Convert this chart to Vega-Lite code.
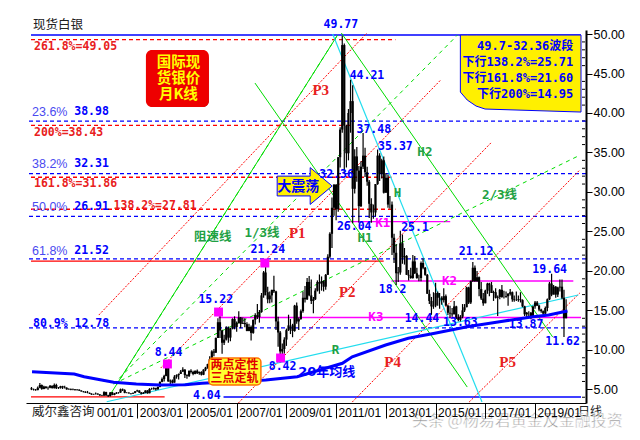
{
  "$schema": "https://vega.github.io/schema/vega-lite/v6.json",
  "width": 560,
  "height": 373,
  "autosize": {"type": "none"},
  "padding": {"left": 26, "top": 30, "right": 54, "bottom": 37},
  "background": "#ffffff",
  "config": {"view": {"stroke": null}},
  "datasets": {
    "candles": [
      {"t":"1998-10","o":5.13,"h":5.30,"l":4.90,"c":5.00},
      {"t":"1998-11","o":5.00,"h":5.10,"l":4.85,"c":4.95},
      {"t":"1998-12","o":4.95,"h":5.05,"l":4.82,"c":4.90},
      {"t":"1999-01","o":4.90,"h":5.35,"l":4.90,"c":5.20},
      {"t":"1999-02","o":5.20,"h":5.80,"l":5.15,"c":5.55},
      {"t":"1999-03","o":5.55,"h":5.60,"l":4.95,"c":5.05},
      {"t":"1999-04","o":5.05,"h":5.45,"l":5.00,"c":5.35},
      {"t":"1999-05","o":5.35,"h":5.40,"l":5.10,"c":5.15},
      {"t":"1999-06","o":5.15,"h":5.35,"l":4.95,"c":5.20},
      {"t":"1999-07","o":5.20,"h":5.55,"l":5.15,"c":5.45},
      {"t":"1999-08","o":5.45,"h":5.50,"l":5.10,"c":5.15},
      {"t":"1999-09","o":5.15,"h":5.75,"l":5.10,"c":5.55},
      {"t":"1999-10","o":5.55,"h":5.70,"l":5.05,"c":5.15},
      {"t":"1999-11","o":5.15,"h":5.30,"l":5.05,"c":5.15},
      {"t":"1999-12","o":5.15,"h":5.45,"l":5.10,"c":5.40},
      {"t":"2000-01","o":5.40,"h":5.45,"l":5.05,"c":5.25},
      {"t":"2000-02","o":5.25,"h":5.45,"l":5.10,"c":5.20},
      {"t":"2000-03","o":5.20,"h":5.25,"l":4.95,"c":5.00},
      {"t":"2000-04","o":5.00,"h":5.15,"l":4.95,"c":5.05},
      {"t":"2000-05","o":5.05,"h":5.10,"l":4.90,"c":4.95},
      {"t":"2000-06","o":4.95,"h":5.10,"l":4.90,"c":5.00},
      {"t":"2000-07","o":5.00,"h":5.05,"l":4.85,"c":4.90},
      {"t":"2000-08","o":4.90,"h":5.05,"l":4.85,"c":4.95},
      {"t":"2000-09","o":4.95,"h":5.00,"l":4.80,"c":4.85},
      {"t":"2000-10","o":4.85,"h":4.90,"l":4.70,"c":4.75},
      {"t":"2000-11","o":4.75,"h":4.80,"l":4.60,"c":4.70},
      {"t":"2000-12","o":4.70,"h":4.75,"l":4.55,"c":4.60},
      {"t":"2001-01","o":4.60,"h":4.80,"l":4.50,"c":4.55},
      {"t":"2001-02","o":4.55,"h":4.60,"l":4.40,"c":4.45},
      {"t":"2001-03","o":4.45,"h":4.50,"l":4.30,"c":4.35},
      {"t":"2001-04","o":4.35,"h":4.45,"l":4.30,"c":4.40},
      {"t":"2001-05","o":4.40,"h":4.60,"l":4.35,"c":4.45},
      {"t":"2001-06","o":4.45,"h":4.50,"l":4.30,"c":4.35},
      {"t":"2001-07","o":4.35,"h":4.40,"l":4.15,"c":4.25},
      {"t":"2001-08","o":4.25,"h":4.30,"l":4.15,"c":4.20},
      {"t":"2001-09","o":4.20,"h":4.75,"l":4.20,"c":4.65},
      {"t":"2001-10","o":4.65,"h":4.70,"l":4.15,"c":4.25},
      {"t":"2001-11","o":4.25,"h":4.30,"l":4.04,"c":4.15},
      {"t":"2001-12","o":4.15,"h":4.65,"l":4.10,"c":4.60},
      {"t":"2002-01","o":4.60,"h":4.65,"l":4.25,"c":4.30},
      {"t":"2002-02","o":4.30,"h":4.55,"l":4.25,"c":4.45},
      {"t":"2002-03","o":4.45,"h":4.65,"l":4.40,"c":4.55},
      {"t":"2002-04","o":4.55,"h":4.65,"l":4.45,"c":4.60},
      {"t":"2002-05","o":4.60,"h":5.10,"l":4.55,"c":5.00},
      {"t":"2002-06","o":5.00,"h":5.10,"l":4.80,"c":4.90},
      {"t":"2002-07","o":4.90,"h":5.00,"l":4.50,"c":4.55},
      {"t":"2002-08","o":4.55,"h":4.65,"l":4.50,"c":4.55},
      {"t":"2002-09","o":4.55,"h":4.65,"l":4.45,"c":4.50},
      {"t":"2002-10","o":4.50,"h":4.55,"l":4.35,"c":4.45},
      {"t":"2002-11","o":4.45,"h":4.60,"l":4.40,"c":4.55},
      {"t":"2002-12","o":4.55,"h":4.80,"l":4.50,"c":4.75},
      {"t":"2003-01","o":4.75,"h":4.95,"l":4.70,"c":4.85},
      {"t":"2003-02","o":4.85,"h":4.90,"l":4.55,"c":4.60},
      {"t":"2003-03","o":4.60,"h":4.65,"l":4.35,"c":4.45},
      {"t":"2003-04","o":4.45,"h":4.65,"l":4.40,"c":4.55},
      {"t":"2003-05","o":4.55,"h":4.90,"l":4.50,"c":4.85},
      {"t":"2003-06","o":4.85,"h":4.90,"l":4.45,"c":4.50},
      {"t":"2003-07","o":4.50,"h":5.15,"l":4.50,"c":5.05},
      {"t":"2003-08","o":5.05,"h":5.20,"l":4.95,"c":5.05},
      {"t":"2003-09","o":5.05,"h":5.25,"l":4.95,"c":5.15},
      {"t":"2003-10","o":5.15,"h":5.20,"l":4.85,"c":5.00},
      {"t":"2003-11","o":5.00,"h":5.35,"l":4.95,"c":5.30},
      {"t":"2003-12","o":5.30,"h":6.00,"l":5.25,"c":5.95},
      {"t":"2004-01","o":5.95,"h":6.50,"l":5.90,"c":6.30},
      {"t":"2004-02","o":6.30,"h":6.85,"l":6.00,"c":6.70},
      {"t":"2004-03","o":6.70,"h":7.95,"l":6.65,"c":7.95},
      {"t":"2004-04","o":7.95,"h":8.44,"l":5.95,"c":6.00},
      {"t":"2004-05","o":6.00,"h":6.25,"l":5.50,"c":6.10},
      {"t":"2004-06","o":6.10,"h":6.25,"l":5.75,"c":5.85},
      {"t":"2004-07","o":5.85,"h":6.80,"l":5.85,"c":6.60},
      {"t":"2004-08","o":6.60,"h":6.90,"l":6.35,"c":6.80},
      {"t":"2004-09","o":6.80,"h":7.00,"l":6.25,"c":6.95},
      {"t":"2004-10","o":6.95,"h":7.45,"l":6.95,"c":7.25},
      {"t":"2004-11","o":7.25,"h":7.80,"l":7.20,"c":7.50},
      {"t":"2004-12","o":7.50,"h":7.55,"l":6.45,"c":6.80},
      {"t":"2005-01","o":6.80,"h":6.90,"l":6.35,"c":6.70},
      {"t":"2005-02","o":6.70,"h":7.40,"l":6.55,"c":7.35},
      {"t":"2005-03","o":7.35,"h":7.55,"l":7.00,"c":7.20},
      {"t":"2005-04","o":7.20,"h":7.35,"l":6.80,"c":6.95},
      {"t":"2005-05","o":6.95,"h":7.40,"l":6.90,"c":7.35},
      {"t":"2005-06","o":7.35,"h":7.50,"l":6.95,"c":7.05},
      {"t":"2005-07","o":7.05,"h":7.25,"l":6.85,"c":7.20},
      {"t":"2005-08","o":7.20,"h":7.30,"l":6.75,"c":6.85},
      {"t":"2005-09","o":6.85,"h":7.55,"l":6.80,"c":7.50},
      {"t":"2005-10","o":7.50,"h":7.85,"l":7.30,"c":7.75},
      {"t":"2005-11","o":7.75,"h":8.25,"l":7.60,"c":8.20},
      {"t":"2005-12","o":8.20,"h":9.20,"l":8.10,"c":8.83},
      {"t":"2006-01","o":8.83,"h":9.95,"l":8.80,"c":9.80},
      {"t":"2006-02","o":9.80,"h":10.10,"l":9.20,"c":9.65},
      {"t":"2006-03","o":9.65,"h":11.55,"l":9.60,"c":11.50},
      {"t":"2006-04","o":11.50,"h":14.00,"l":11.50,"c":13.50},
      {"t":"2006-05","o":13.50,"h":15.22,"l":11.50,"c":12.45},
      {"t":"2006-06","o":12.45,"h":12.55,"l":9.50,"c":10.90},
      {"t":"2006-07","o":10.90,"h":11.90,"l":10.60,"c":11.30},
      {"t":"2006-08","o":11.30,"h":13.00,"l":11.20,"c":12.80},
      {"t":"2006-09","o":12.80,"h":12.95,"l":10.90,"c":11.55},
      {"t":"2006-10","o":11.55,"h":12.80,"l":11.10,"c":12.70},
      {"t":"2006-11","o":12.70,"h":14.00,"l":12.60,"c":13.90},
      {"t":"2006-12","o":13.90,"h":14.25,"l":12.60,"c":12.90},
      {"t":"2007-01","o":12.90,"h":13.60,"l":12.30,"c":13.40},
      {"t":"2007-02","o":13.40,"h":14.90,"l":13.35,"c":14.10},
      {"t":"2007-03","o":14.10,"h":14.15,"l":12.75,"c":13.30},
      {"t":"2007-04","o":13.30,"h":14.10,"l":13.30,"c":13.40},
      {"t":"2007-05","o":13.40,"h":14.00,"l":12.85,"c":13.25},
      {"t":"2007-06","o":13.25,"h":13.50,"l":12.35,"c":12.40},
      {"t":"2007-07","o":12.40,"h":13.30,"l":12.35,"c":12.90},
      {"t":"2007-08","o":12.90,"h":13.10,"l":11.20,"c":12.15},
      {"t":"2007-09","o":12.15,"h":13.85,"l":12.05,"c":13.80},
      {"t":"2007-10","o":13.80,"h":14.65,"l":13.20,"c":14.40},
      {"t":"2007-11","o":14.40,"h":15.80,"l":13.90,"c":14.15},
      {"t":"2007-12","o":14.15,"h":15.05,"l":13.45,"c":14.80},
      {"t":"2008-01","o":14.80,"h":17.20,"l":14.70,"c":16.90},
      {"t":"2008-02","o":16.90,"h":20.00,"l":16.60,"c":19.80},
      {"t":"2008-03","o":19.80,"h":21.24,"l":16.90,"c":17.30},
      {"t":"2008-04","o":17.30,"h":18.00,"l":15.90,"c":16.40},
      {"t":"2008-05","o":16.40,"h":17.40,"l":15.90,"c":16.90},
      {"t":"2008-06","o":16.90,"h":17.60,"l":16.00,"c":17.60},
      {"t":"2008-07","o":17.60,"h":19.40,"l":17.20,"c":17.40},
      {"t":"2008-08","o":17.40,"h":17.50,"l":12.50,"c":13.60},
      {"t":"2008-09","o":13.60,"h":14.20,"l":10.40,"c":12.20},
      {"t":"2008-10","o":12.20,"h":12.40,"l":8.42,"c":9.80},
      {"t":"2008-11","o":9.80,"h":10.80,"l":8.80,"c":10.10},
      {"t":"2008-12","o":10.10,"h":11.60,"l":9.50,"c":11.30},
      {"t":"2009-01","o":11.30,"h":12.70,"l":10.50,"c":12.50},
      {"t":"2009-02","o":12.50,"h":14.45,"l":12.40,"c":13.10},
      {"t":"2009-03","o":13.10,"h":13.90,"l":12.00,"c":13.10},
      {"t":"2009-04","o":13.10,"h":13.30,"l":11.60,"c":12.40},
      {"t":"2009-05","o":12.40,"h":15.70,"l":12.30,"c":15.60},
      {"t":"2009-06","o":15.60,"h":16.00,"l":13.30,"c":13.60},
      {"t":"2009-07","o":13.60,"h":14.10,"l":12.50,"c":13.90},
      {"t":"2009-08","o":13.90,"h":15.10,"l":13.80,"c":14.90},
      {"t":"2009-09","o":14.90,"h":17.40,"l":14.70,"c":16.60},
      {"t":"2009-10","o":16.60,"h":18.10,"l":16.00,"c":16.40},
      {"t":"2009-11","o":16.40,"h":19.10,"l":16.30,"c":18.60},
      {"t":"2009-12","o":18.60,"h":19.35,"l":16.80,"c":16.90},
      {"t":"2010-01","o":16.90,"h":18.90,"l":15.80,"c":16.20},
      {"t":"2010-02","o":16.20,"h":16.70,"l":14.65,"c":16.40},
      {"t":"2010-03","o":16.40,"h":17.80,"l":16.30,"c":17.50},
      {"t":"2010-04","o":17.50,"h":18.80,"l":17.40,"c":18.60},
      {"t":"2010-05","o":18.60,"h":19.55,"l":17.10,"c":18.40},
      {"t":"2010-06","o":18.40,"h":19.30,"l":17.50,"c":18.70},
      {"t":"2010-07","o":18.70,"h":18.80,"l":17.40,"c":18.00},
      {"t":"2010-08","o":18.00,"h":19.60,"l":17.60,"c":19.50},
      {"t":"2010-09","o":19.50,"h":22.10,"l":19.50,"c":21.80},
      {"t":"2010-10","o":21.80,"h":24.90,"l":21.60,"c":24.70},
      {"t":"2010-11","o":24.70,"h":29.30,"l":22.90,"c":28.00},
      {"t":"2010-12","o":28.00,"h":31.00,"l":27.00,"c":30.90},
      {"t":"2011-01","o":30.90,"h":31.00,"l":26.40,"c":27.80},
      {"t":"2011-02","o":27.80,"h":34.40,"l":27.50,"c":34.40},
      {"t":"2011-03","o":34.40,"h":38.20,"l":33.10,"c":37.90},
      {"t":"2011-04","o":37.90,"h":49.77,"l":37.50,"c":48.60},
      {"t":"2011-05","o":48.60,"h":48.80,"l":32.36,"c":38.40},
      {"t":"2011-06","o":38.40,"h":38.50,"l":33.10,"c":34.90},
      {"t":"2011-07","o":34.90,"h":40.50,"l":34.00,"c":40.00},
      {"t":"2011-08","o":40.00,"h":44.21,"l":37.50,"c":41.50},
      {"t":"2011-09","o":41.50,"h":43.50,"l":26.04,"c":30.40},
      {"t":"2011-10","o":30.40,"h":35.40,"l":29.80,"c":34.50},
      {"t":"2011-11","o":34.50,"h":35.70,"l":31.30,"c":32.70},
      {"t":"2011-12","o":32.70,"h":33.30,"l":26.10,"c":28.20},
      {"t":"2012-01","o":28.20,"h":33.90,"l":28.10,"c":33.20},
      {"t":"2012-02","o":33.20,"h":37.48,"l":32.90,"c":34.60},
      {"t":"2012-03","o":34.60,"h":35.60,"l":31.90,"c":32.50},
      {"t":"2012-04","o":32.50,"h":33.20,"l":30.80,"c":31.30},
      {"t":"2012-05","o":31.30,"h":31.50,"l":26.70,"c":28.50},
      {"t":"2012-06","o":28.50,"h":29.20,"l":26.10,"c":27.40},
      {"t":"2012-07","o":27.40,"h":28.40,"l":26.60,"c":27.40},
      {"t":"2012-08","o":27.40,"h":31.00,"l":26.90,"c":31.00},
      {"t":"2012-09","o":31.00,"h":35.37,"l":30.90,"c":34.60},
      {"t":"2012-10","o":34.60,"h":34.90,"l":31.40,"c":32.30},
      {"t":"2012-11","o":32.30,"h":34.20,"l":31.70,"c":34.00},
      {"t":"2012-12","o":34.00,"h":34.50,"l":29.80,"c":29.90},
      {"t":"2013-01","o":29.90,"h":32.40,"l":29.90,"c":31.80},
      {"t":"2013-02","o":31.80,"h":32.20,"l":28.00,"c":28.40},
      {"t":"2013-03","o":28.40,"h":29.50,"l":27.90,"c":28.40},
      {"t":"2013-04","o":28.40,"h":28.80,"l":22.00,"c":24.20},
      {"t":"2013-05","o":24.20,"h":24.70,"l":21.00,"c":22.30},
      {"t":"2013-06","o":22.30,"h":23.40,"l":18.20,"c":19.70},
      {"t":"2013-07","o":19.70,"h":20.50,"l":18.60,"c":19.80},
      {"t":"2013-08","o":19.80,"h":25.10,"l":19.50,"c":23.50},
      {"t":"2013-09","o":23.50,"h":24.60,"l":20.90,"c":21.70},
      {"t":"2013-10","o":21.70,"h":22.90,"l":20.80,"c":21.90},
      {"t":"2013-11","o":21.90,"h":22.00,"l":19.50,"c":19.50},
      {"t":"2013-12","o":19.50,"h":20.10,"l":18.80,"c":19.40},
      {"t":"2014-01","o":19.40,"h":20.40,"l":19.00,"c":19.10},
      {"t":"2014-02","o":19.10,"h":22.00,"l":19.00,"c":21.20},
      {"t":"2014-03","o":21.20,"h":21.90,"l":19.60,"c":19.70},
      {"t":"2014-04","o":19.70,"h":20.40,"l":19.00,"c":19.10},
      {"t":"2014-05","o":19.10,"h":19.50,"l":18.70,"c":19.10},
      {"t":"2014-06","o":19.10,"h":21.20,"l":18.70,"c":21.00},
      {"t":"2014-07","o":21.00,"h":21.60,"l":20.20,"c":20.40},
      {"t":"2014-08","o":20.40,"h":20.50,"l":19.40,"c":19.50},
      {"t":"2014-09","o":19.50,"h":19.60,"l":17.10,"c":17.10},
      {"t":"2014-10","o":17.10,"h":17.60,"l":15.80,"c":16.20},
      {"t":"2014-11","o":16.20,"h":16.70,"l":14.44,"c":15.50},
      {"t":"2014-12","o":15.50,"h":17.30,"l":15.20,"c":15.60},
      {"t":"2015-01","o":15.60,"h":18.50,"l":15.40,"c":17.20},
      {"t":"2015-02","o":17.20,"h":17.40,"l":15.60,"c":16.60},
      {"t":"2015-03","o":16.60,"h":17.20,"l":15.20,"c":16.60},
      {"t":"2015-04","o":16.60,"h":16.80,"l":15.70,"c":16.30},
      {"t":"2015-05","o":16.30,"h":17.80,"l":16.00,"c":16.80},
      {"t":"2015-06","o":16.80,"h":17.00,"l":15.60,"c":15.60},
      {"t":"2015-07","o":15.60,"h":15.70,"l":14.40,"c":14.70},
      {"t":"2015-08","o":14.70,"h":15.60,"l":14.00,"c":14.60},
      {"t":"2015-09","o":14.60,"h":15.30,"l":14.20,"c":14.50},
      {"t":"2015-10","o":14.50,"h":16.20,"l":14.50,"c":15.50},
      {"t":"2015-11","o":15.50,"h":15.60,"l":13.90,"c":14.10},
      {"t":"2015-12","o":14.10,"h":14.50,"l":13.63,"c":13.80},
      {"t":"2016-01","o":13.80,"h":14.40,"l":13.60,"c":14.20},
      {"t":"2016-02","o":14.20,"h":15.80,"l":14.00,"c":15.00},
      {"t":"2016-03","o":15.00,"h":15.80,"l":14.80,"c":15.40},
      {"t":"2016-04","o":15.40,"h":18.00,"l":15.40,"c":17.90},
      {"t":"2016-05","o":17.90,"h":18.00,"l":15.80,"c":16.00},
      {"t":"2016-06","o":16.00,"h":18.80,"l":15.80,"c":18.70},
      {"t":"2016-07","o":18.70,"h":21.12,"l":18.60,"c":20.40},
      {"t":"2016-08","o":20.40,"h":20.70,"l":18.60,"c":18.70},
      {"t":"2016-09","o":18.70,"h":20.00,"l":18.60,"c":19.20},
      {"t":"2016-10","o":19.20,"h":19.30,"l":16.80,"c":17.70},
      {"t":"2016-11","o":17.70,"h":18.60,"l":16.30,"c":16.50},
      {"t":"2016-12","o":16.50,"h":17.20,"l":15.60,"c":15.90},
      {"t":"2017-01","o":15.90,"h":17.60,"l":15.90,"c":17.50},
      {"t":"2017-02","o":17.50,"h":18.50,"l":17.10,"c":18.40},
      {"t":"2017-03","o":18.40,"h":18.50,"l":16.80,"c":18.20},
      {"t":"2017-04","o":18.20,"h":18.60,"l":17.20,"c":17.20},
      {"t":"2017-05","o":17.20,"h":17.50,"l":16.20,"c":17.30},
      {"t":"2017-06","o":17.30,"h":17.80,"l":16.50,"c":16.60},
      {"t":"2017-07","o":16.60,"h":16.90,"l":14.30,"c":16.70},
      {"t":"2017-08","o":16.70,"h":17.70,"l":16.40,"c":17.60},
      {"t":"2017-09","o":17.60,"h":18.20,"l":16.60,"c":16.70},
      {"t":"2017-10","o":16.70,"h":17.50,"l":16.50,"c":16.70},
      {"t":"2017-11","o":16.70,"h":17.40,"l":16.60,"c":16.80},
      {"t":"2017-12","o":16.80,"h":17.20,"l":15.60,"c":17.10},
      {"t":"2018-01","o":17.10,"h":17.70,"l":16.90,"c":17.30},
      {"t":"2018-02","o":17.30,"h":17.40,"l":16.10,"c":16.40},
      {"t":"2018-03","o":16.40,"h":16.90,"l":16.10,"c":16.30},
      {"t":"2018-04","o":16.30,"h":17.40,"l":16.20,"c":16.30},
      {"t":"2018-05","o":16.30,"h":16.90,"l":16.10,"c":16.40},
      {"t":"2018-06","o":16.40,"h":17.30,"l":16.00,"c":16.30},
      {"t":"2018-07","o":16.30,"h":16.40,"l":15.40,"c":15.50},
      {"t":"2018-08","o":15.50,"h":15.60,"l":14.30,"c":14.50},
      {"t":"2018-09","o":14.50,"h":14.80,"l":13.95,"c":14.70},
      {"t":"2018-10","o":14.70,"h":14.90,"l":14.10,"c":14.70},
      {"t":"2018-11","o":14.70,"h":14.80,"l":13.87,"c":14.20},
      {"t":"2018-12","o":14.20,"h":15.60,"l":14.10,"c":15.50},
      {"t":"2019-01","o":15.50,"h":16.20,"l":15.20,"c":16.00},
      {"t":"2019-02","o":16.00,"h":16.20,"l":15.60,"c":15.60},
      {"t":"2019-03","o":15.60,"h":15.70,"l":14.90,"c":15.10},
      {"t":"2019-04","o":15.10,"h":15.20,"l":14.70,"c":14.90},
      {"t":"2019-05","o":14.90,"h":15.00,"l":14.30,"c":14.60},
      {"t":"2019-06","o":14.60,"h":15.50,"l":14.30,"c":15.30},
      {"t":"2019-07","o":15.30,"h":16.50,"l":14.90,"c":16.40},
      {"t":"2019-08","o":16.40,"h":18.60,"l":16.30,"c":18.40},
      {"t":"2019-09","o":18.40,"h":19.64,"l":16.80,"c":17.00},
      {"t":"2019-10","o":17.00,"h":18.20,"l":17.00,"c":18.00},
      {"t":"2019-11","o":18.00,"h":18.10,"l":16.60,"c":17.00},
      {"t":"2019-12","o":17.00,"h":18.00,"l":16.70,"c":17.90},
      {"t":"2020-01","o":17.90,"h":18.90,"l":17.40,"c":18.00},
      {"t":"2020-02","o":18.00,"h":18.90,"l":16.40,"c":16.60},
      {"t":"2020-03","o":16.60,"h":17.60,"l":11.62,"c":14.00},
      {"t":"2020-04","o":14.00,"h":16.40,"l":14.00,"c":15.00}
    ],
    "ma20": [
      {"t":"1998-10-09","v":7.23},{"t":"2000-06-20","v":6.94},{"t":"2000-11-13","v":6.60},
      {"t":"2002-01-19","v":5.89},{"t":"2002-12-19","v":5.67},{"t":"2003-11-28","v":5.55},
      {"t":"2004-12-07","v":5.59},{"t":"2005-08-09","v":5.76},{"t":"2008-03-04","v":6.18},
      {"t":"2009-06-09","v":6.60},{"t":"2011-04-03","v":8.30},{"t":"2011-08-26","v":9.13},
      {"t":"2012-12-29","v":10.61},{"t":"2013-11-26","v":11.46},{"t":"2014-12-20","v":12.10},
      {"t":"2016-04-10","v":12.93},{"t":"2017-07-29","v":13.57},{"t":"2018-12-03","v":14.20},
      {"t":"2019-07-20","v":14.41},{"t":"2020-04-21","v":14.92}
    ],
    "minorTicks": [
      {"t":"2020-11-06","v":4},{"t":"2020-11-06","v":6},{"t":"2020-11-06","v":7},{"t":"2020-11-06","v":8},{"t":"2020-11-06","v":9},
      {"t":"2020-11-06","v":11},{"t":"2020-11-06","v":12},{"t":"2020-11-06","v":13},{"t":"2020-11-06","v":14},
      {"t":"2020-11-06","v":16},{"t":"2020-11-06","v":17},{"t":"2020-11-06","v":18},{"t":"2020-11-06","v":19},
      {"t":"2020-11-06","v":21},{"t":"2020-11-06","v":22},{"t":"2020-11-06","v":23},{"t":"2020-11-06","v":24},
      {"t":"2020-11-06","v":26},{"t":"2020-11-06","v":27},{"t":"2020-11-06","v":28},{"t":"2020-11-06","v":29},
      {"t":"2020-11-06","v":31},{"t":"2020-11-06","v":32},{"t":"2020-11-06","v":33},{"t":"2020-11-06","v":34},
      {"t":"2020-11-06","v":36},{"t":"2020-11-06","v":37},{"t":"2020-11-06","v":38},{"t":"2020-11-06","v":39},
      {"t":"2020-11-06","v":41},{"t":"2020-11-06","v":42},{"t":"2020-11-06","v":43},{"t":"2020-11-06","v":44},
      {"t":"2020-11-06","v":46},{"t":"2020-11-06","v":47},{"t":"2020-11-06","v":48},{"t":"2020-11-06","v":49}
    ],
    "fibBlue": [{"v":38.98},{"v":32.31},{"v":26.91},{"v":21.52},{"v":12.78}],
    "redDash": [
      {"v":49.3,"t":"1998-09-24","t2":"2013-05-21"},
      {"v":38.43,"t":"1998-09-24","t2":"2011-08-26"},
      {"v":31.86,"t":"1998-09-24","t2":"2013-03-24"},
      {"v":27.81,"t":"1998-09-24","t2":"2013-05-21"}
    ],
    "redSolid": [
      {"v":21.24,"t":"1998-09-24","t2":"2012-11-30"},
      {"v":4.04,"t":"1998-09-24","t2":"2004-02-08"}
    ],
    "blueSolid": [
      {"v":4.04,"t":"2006-06-22","t2":"2020-11-06"},
      {"v":49.87,"t":"1998-09-24","t2":"2020-11-06"}
    ],
    "magentaLines": [
      {"v":14.1,"t":"2006-04-10","t2":"2020-11-06"},
      {"v":18.72,"t":"2013-03-24","t2":"2020-07-16"},
      {"v":26.23,"t":"2011-05-28","t2":"2015-08-04"}
    ],
    "redDiag": [
      {"id":"P1","t":"2003-12-12","v":7.70},{"id":"P1","t":"2015-03-16","v":44.17},
      {"id":"P2","t":"2007-01-26","v":3.27},{"id":"P2","t":"2017-04-05","v":36.32},
      {"id":"P3","t":"2001-06-16","v":14.41},{"id":"P3","t":"2012-03-29","v":50.13},
      {"id":"P4","t":"2011-08-26","v":3.39},{"id":"P4","t":"2020-10-19","v":32.78},
      {"id":"P5","t":"2016-05-08","v":3.39},{"id":"P5","t":"2020-10-19","v":17.20}
    ],
    "greenSolid": [
      {"id":"G1","t":"2001-12-06","v":4.41},{"id":"G1","t":"2011-01-22","v":49.87},
      {"id":"G2","t":"2007-09-27","v":43.79},{"id":"G2","t":"2016-04-10","v":5.29},
      {"id":"G3","t":"2011-03-19","v":50.13},{"id":"G3","t":"2019-09-17","v":11.63}
    ],
    "greenDash": [
      {"id":"F0","t":"2002-03-02","v":5.55},{"id":"F0","t":"2011-01-22","v":49.87},
      {"id":"F1","t":"2002-01-19","v":5.67},{"id":"F1","t":"2015-11-18","v":49.87},
      {"id":"F2","t":"2002-01-19","v":5.67},{"id":"F2","t":"2020-10-26","v":34.68}
    ],
    "cyanLines": [
      {"id":"R","t":"2001-10-10","v":3.43},{"id":"R","t":"2020-09-27","v":16.95},
      {"id":"H","t":"2010-11-11","v":50.0},{"id":"H","t":"2016-11-13","v":3.39}
    ],
    "squares": [
      {"t":"2004-03-20","v":8.21},{"t":"2006-04-10","v":14.79},
      {"t":"2008-02-19","v":21.0},{"t":"2008-10-07","v":8.97}
    ],
    "priceLabels": [
      {"t":"2011-03-12","v":51.14,"s":"49.77"},
      {"t":"2012-03-29","v":44.68,"s":"44.21"},
      {"t":"2012-07-08","v":37.84,"s":"37.48"},
      {"t":"2013-05-21","v":35.69,"s":"35.37"},
      {"t":"2011-01-08","v":32.14,"s":"32.36"},
      {"t":"2011-09-24","v":25.56,"s":"26.04"},
      {"t":"2014-03-05","v":25.43,"s":"25.1"},
      {"t":"2013-04-09","v":17.58,"s":"18.2"},
      {"t":"2016-08-18","v":22.39,"s":"21.12"},
      {"t":"2019-08-04","v":20.11,"s":"19.64"},
      {"t":"2014-06-15","v":13.91,"s":"14.44"},
      {"t":"2015-12-31","v":13.40,"s":"13.63"},
      {"t":"2018-08-23","v":13.15,"s":"13.87"},
      {"t":"2020-02-09","v":10.99,"s":"11.62"},
      {"t":"2008-11-06","v":7.83,"s":"8.42"},
      {"t":"2004-04-06","v":9.60,"s":"8.44"},
      {"t":"2006-02-28","v":16.31,"s":"15.22"},
      {"t":"2008-04-02","v":22.64,"s":"21.24"},
      {"t":"2005-10-20","v":4.19,"s":"4.04"}
    ],
    "fibNumbers": [
      {"t":"2000-06-20","v":40.12,"s":"38.98"},
      {"t":"2000-06-20","v":33.54,"s":"32.31"},
      {"t":"2000-06-20","v":28.09,"s":"26.91"},
      {"t":"2000-06-20","v":22.56,"s":"21.52"},
      {"t":"1998-10-23","v":13.27,"s":"80.9% 12.78"}
    ],
    "fibPercents": [
      {"t":"1998-10-09","v":40.12,"s":"23.6%"},
      {"t":"1998-10-09","v":33.54,"s":"38.2%"},
      {"t":"1998-10-09","v":28.09,"s":"50.0%"},
      {"t":"1998-10-09","v":22.56,"s":"61.8%"}
    ],
    "redLeft": [
      {"t":"1998-11-07","v":48.35,"s":"261.8%=49.05"},
      {"t":"1998-11-07","v":37.46,"s":"200%=38.43"},
      {"t":"1998-11-07","v":31.00,"s":"161.8%=31.86"},
      {"t":"2002-01-19","v":28.22,"s":"138.2%=27.81"}
    ],
    "greenLabels": [
      {"t":"2006-01-16","v":24.29,"s":"阻速线"},
      {"t":"2008-01-07","v":24.80,"s":"1/3线"},
      {"t":"2012-02-28","v":24.16,"s":"H1"},
      {"t":"2013-06-20","v":29.86,"s":"H"},
      {"t":"2014-07-28","v":35.06,"s":"H2"},
      {"t":"2017-07-29","v":29.61,"s":"2/3线"},
      {"t":"2010-12-24","v":9.98,"s":"R"}
    ],
    "pLabels": [
      {"t":"2009-06-09","v":24.80,"s":"P1"},
      {"t":"2011-06-14","v":17.33,"s":"P2"},
      {"t":"2010-05-20","v":42.91,"s":"P3"},
      {"t":"2013-04-09","v":8.46,"s":"P4"},
      {"t":"2017-11-23","v":8.46,"s":"P5"}
    ],
    "kLabels": [
      {"t":"2012-11-16","v":26.06,"s":"K1"},
      {"t":"2015-07-24","v":18.72,"s":"K2"},
      {"t":"2012-08-07","v":14.16,"s":"K3"}
    ],
    "maLabel": [{"t":"2010-08-16","v":7.19,"s":"20年均线"}],
    "yellowBox": [
      {"t":"2015-12-31","lo":42.65,"hi":49.87},
      {"t":"2016-04-10","lo":41.64,"hi":49.87},
      {"t":"2016-08-18","lo":40.88,"hi":49.87},
      {"t":"2016-12-28","lo":40.50,"hi":49.87},
      {"t":"2020-11-06","lo":40.12,"hi":49.87}
    ],
    "yellowText": [
      {"t":"2020-07-16","v":48.48,"s":"49.7-32.36波段"},
      {"t":"2020-07-16","v":46.45,"s":"下行138.2%=25.71"},
      {"t":"2020-07-16","v":44.43,"s":"下行161.8%=21.60"},
      {"t":"2020-07-16","v":42.40,"s":"下行200%=14.95"}
    ],
    "redBox": [{"t":"2003-05-09","t2":"2005-11-19","v":47.97,"v2":40.75}],
    "redBoxText": [
      {"t":"2004-08-28","v":46.33,"s":"国际现"},
      {"t":"2004-08-28","v":44.30,"s":"货银价"},
      {"t":"2004-08-28","v":42.27,"s":"月K线"}
    ],
    "noteBox": [{"t":"2005-11-19","t2":"2007-12-23","v":8.97,"v2":5.55}],
    "noteText": [
      {"t":"2006-11-29","v":8.08,"s":"两点定性"},
      {"t":"2006-11-29","v":6.43,"s":"三点定轨"}
    ],
    "arrow": [{"t":"2009-09-26","v":30.75}],
    "arrowText": [{"t":"2009-06-23","v":30.62,"s":"大震荡"}],
    "blackText": [
      {"t":"1998-10-23","v":51.14,"s":"现货白银"},
      {"t":"1998-10-09","v":2.13,"s":"威尔鑫咨询"}
    ],
    "dayText": [{"t":"2021-03-18","v":2.13,"s":"日线"}],
    "watermark": [{"t":"2018-04-15","v":0.99,"s":"头条 @杨易君黄金及金融投资"}]
  },
  "layer": [
    {
      "data": {"name": "candles"},
      "mark": {"type": "rule", "color": "#000000", "strokeWidth": 1, "opacity": 0},
      "encoding": {
        "x": {
          "field": "t", "type": "temporal",
          "scale": {"type": "utc", "domain": [{"year": 1998, "month": 9, "date": 24, "utc": true}, {"year": 2020, "month": 11, "date": 6, "utc": true}]},
          "axis": {
            "title": null, "grid": false, "zindex": 1,
            "values": [
              {"year": 2001, "month": 1, "date": 1, "utc": true},
              {"year": 2003, "month": 1, "date": 1, "utc": true},
              {"year": 2005, "month": 1, "date": 1, "utc": true},
              {"year": 2007, "month": 1, "date": 1, "utc": true},
              {"year": 2009, "month": 1, "date": 1, "utc": true},
              {"year": 2011, "month": 1, "date": 1, "utc": true},
              {"year": 2013, "month": 1, "date": 1, "utc": true},
              {"year": 2015, "month": 1, "date": 1, "utc": true},
              {"year": 2017, "month": 1, "date": 1, "utc": true},
              {"year": 2019, "month": 1, "date": 1, "utc": true}
            ],
            "labelExpr": "utcyear(datum.value) == 2001 ? '001/01' : utcFormat(datum.value, '%Y/%m')",
            "labelAlign": "left",
            "labelBaseline": "middle",
            "labelOffset": {"condition": {"test": "utcyear(datum.value) == 2001", "value": 9}, "value": 2},
            "tickOpacity": {"condition": {"test": "utcyear(datum.value) == 2001", "value": 0}, "value": 1},
            "tickSize": 15,
            "labelPadding": -6,
            "labelFont": "Liberation Sans",
            "labelFontSize": 12,
            "labelColor": "#000000",
            "domainColor": "#000000",
            "tickColor": "#000000",
            "labelOverlap": false,
            "labelFlush": false
          }
        },
        "y": {
          "field": "l", "type": "quantitative",
          "scale": {"domain": [3.27, 50.51], "nice": false, "zero": false},
          "axis": {
            "orient": "right", "title": null, "grid": false, "zindex": 1,
            "values": [5, 10, 15, 20, 25, 30, 35, 40, 45, 50],
            "format": ".2f",
            "tickSize": 6,
            "labelOverlap": false,
            "labelFont": "Liberation Sans",
            "labelFontSize": 12.5,
            "labelColor": "#000000",
            "labelPadding": 1,
            "domainColor": "#000000",
            "domainWidth": 2,
            "tickColor": "#000000"
          }
        },
        "y2": {"field": "h"}
      }
    },
    {
      "data": {"name": "minorTicks"},
      "mark": {"type": "tick", "orient": "horizontal", "color": "#000000", "size": 3, "thickness": 1, "xOffset": 2.5, "opacity": 1},
      "encoding": {
        "x": {"field": "t", "type": "temporal"},
        "y": {"field": "v", "type": "quantitative"}
      }
    },
    {
      "data": {"name": "fibBlue"},
      "mark": {"type": "rule", "color": "#0000ff", "strokeDash": [4, 3], "strokeWidth": 1.3},
      "encoding": {"y": {"field": "v", "type": "quantitative"}}
    },
    {
      "data": {"name": "redDash"},
      "mark": {"type": "rule", "color": "#ff0000", "strokeDash": [4, 3], "strokeWidth": 1.3},
      "encoding": {
        "x": {"field": "t", "type": "temporal"},
        "x2": {"field": "t2"},
        "y": {"field": "v", "type": "quantitative"}
      }
    },
    {
      "data": {"name": "redSolid"},
      "mark": {"type": "rule", "color": "#ff0000", "strokeWidth": 1.3},
      "encoding": {
        "x": {"field": "t", "type": "temporal"},
        "x2": {"field": "t2"},
        "y": {"field": "v", "type": "quantitative"}
      }
    },
    {
      "data": {"name": "blueSolid"},
      "mark": {"type": "rule", "color": "#0000ff", "strokeWidth": 1.5},
      "encoding": {
        "x": {"field": "t", "type": "temporal"},
        "x2": {"field": "t2"},
        "y": {"field": "v", "type": "quantitative"}
      }
    },
    {
      "data": {"name": "magentaLines"},
      "mark": {"type": "rule", "color": "#ff00ff", "strokeWidth": 1.3},
      "encoding": {
        "x": {"field": "t", "type": "temporal"},
        "x2": {"field": "t2"},
        "y": {"field": "v", "type": "quantitative"}
      }
    },
    {
      "data": {"name": "redDiag"},
      "mark": {"type": "line", "color": "#ff0000", "strokeWidth": 1, "strokeDash": [2, 1.5]},
      "encoding": {
        "x": {"field": "t", "type": "temporal"},
        "y": {"field": "v", "type": "quantitative"},
        "detail": {"field": "id"}
      }
    },
    {
      "data": {"name": "greenSolid"},
      "mark": {"type": "line", "color": "#00dd00", "strokeWidth": 1},
      "encoding": {
        "x": {"field": "t", "type": "temporal"},
        "y": {"field": "v", "type": "quantitative"},
        "detail": {"field": "id"}
      }
    },
    {
      "data": {"name": "greenDash"},
      "mark": {"type": "line", "color": "#00dd00", "strokeWidth": 1, "strokeDash": [4, 4]},
      "encoding": {
        "x": {"field": "t", "type": "temporal"},
        "y": {"field": "v", "type": "quantitative"},
        "detail": {"field": "id"}
      }
    },
    {
      "data": {"name": "cyanLines"},
      "mark": {"type": "line", "color": "#22ddee", "strokeWidth": 1.2},
      "encoding": {
        "x": {"field": "t", "type": "temporal"},
        "y": {"field": "v", "type": "quantitative"},
        "detail": {"field": "id"}
      }
    },
    {
      "data": {"name": "candles"},
      "mark": {"type": "rule", "color": "#000000", "strokeWidth": 1.2},
      "encoding": {
        "x": {"field": "t", "type": "temporal"},
        "y": {"field": "l", "type": "quantitative"},
        "y2": {"field": "h"}
      }
    },
    {
      "data": {"name": "candles"},
      "mark": {"type": "bar", "color": "#000000", "size": 2.2},
      "encoding": {
        "x": {"field": "t", "type": "temporal"},
        "y": {"field": "o", "type": "quantitative"},
        "y2": {"field": "c"}
      }
    },
    {
      "data": {"name": "squares"},
      "mark": {"type": "point", "shape": "square", "size": 80, "filled": true, "color": "#ff00ff", "opacity": 1},
      "encoding": {
        "x": {"field": "t", "type": "temporal"},
        "y": {"field": "v", "type": "quantitative"}
      }
    },
    {
      "data": {"name": "ma20"},
      "mark": {"type": "line", "color": "#0000ff", "strokeWidth": 3},
      "encoding": {
        "x": {"field": "t", "type": "temporal"},
        "y": {"field": "v", "type": "quantitative"}
      }
    },
    {
      "data": {"name": "yellowBox"},
      "mark": {"type": "area", "color": "#fff000", "stroke": "#0000ff", "strokeWidth": 1, "opacity": 1},
      "encoding": {
        "x": {"field": "t", "type": "temporal"},
        "y": {"field": "lo", "type": "quantitative"},
        "y2": {"field": "hi"}
      }
    },
    {
      "data": {"name": "yellowText"},
      "mark": {"type": "text", "align": "right", "baseline": "middle", "font": "DejaVu Sans Mono, Noto Sans CJK SC", "fontWeight": "bold", "fontSize": 12, "color": "#0000ff"},
      "encoding": {
        "x": {"field": "t", "type": "temporal"},
        "y": {"field": "v", "type": "quantitative"},
        "text": {"field": "s"}
      }
    },
    {
      "data": {"name": "redBox"},
      "mark": {"type": "rect", "color": "#7a3030", "cornerRadius": 6, "xOffset": 3, "yOffset": 3},
      "encoding": {
        "x": {"field": "t", "type": "temporal"},
        "x2": {"field": "t2"},
        "y": {"field": "v", "type": "quantitative"},
        "y2": {"field": "v2"}
      }
    },
    {
      "data": {"name": "redBox"},
      "mark": {"type": "rect", "color": "#ee0000", "cornerRadius": 6},
      "encoding": {
        "x": {"field": "t", "type": "temporal"},
        "x2": {"field": "t2"},
        "y": {"field": "v", "type": "quantitative"},
        "y2": {"field": "v2"}
      }
    },
    {
      "data": {"name": "redBoxText"},
      "mark": {"type": "text", "align": "center", "baseline": "middle", "font": "Noto Sans CJK SC", "fontWeight": "bold", "fontSize": 14.5, "color": "#ffff00"},
      "encoding": {
        "x": {"field": "t", "type": "temporal"},
        "y": {"field": "v", "type": "quantitative"},
        "text": {"field": "s"}
      }
    },
    {
      "data": {"name": "noteBox"},
      "mark": {"type": "rect", "fill": "#ffff30", "stroke": "#ff7000", "strokeWidth": 1.5, "cornerRadius": 4},
      "encoding": {
        "x": {"field": "t", "type": "temporal"},
        "x2": {"field": "t2"},
        "y": {"field": "v", "type": "quantitative"},
        "y2": {"field": "v2"}
      }
    },
    {
      "data": {"name": "noteText"},
      "mark": {"type": "text", "align": "center", "baseline": "middle", "font": "Noto Sans CJK SC", "fontWeight": "bold", "fontSize": 12, "color": "#e00000"},
      "encoding": {
        "x": {"field": "t", "type": "temporal"},
        "y": {"field": "v", "type": "quantitative"},
        "text": {"field": "s"}
      }
    },
    {
      "data": {"name": "arrow"},
      "mark": {"type": "point", "shape": "M-1,-0.36L0.2,-0.36L0.2,-0.67L1,0L0.2,0.67L0.2,0.36L-1,0.36Z", "size": 3025, "filled": true, "fill": "#fff000", "stroke": "#0000ff", "strokeWidth": 1, "opacity": 1},
      "encoding": {
        "x": {"field": "t", "type": "temporal"},
        "y": {"field": "v", "type": "quantitative"}
      }
    },
    {
      "data": {"name": "arrowText"},
      "mark": {"type": "text", "align": "center", "baseline": "middle", "font": "Noto Sans CJK SC", "fontWeight": "bold", "fontSize": 14, "color": "#0000ff"},
      "encoding": {
        "x": {"field": "t", "type": "temporal"},
        "y": {"field": "v", "type": "quantitative"},
        "text": {"field": "s"}
      }
    },
    {
      "data": {"name": "priceLabels"},
      "mark": {"type": "text", "align": "center", "baseline": "middle", "font": "DejaVu Sans Mono", "fontWeight": "bold", "fontSize": 11.5, "color": "#0000ff"},
      "encoding": {
        "x": {"field": "t", "type": "temporal"},
        "y": {"field": "v", "type": "quantitative"},
        "text": {"field": "s"}
      }
    },
    {
      "data": {"name": "fibNumbers"},
      "mark": {"type": "text", "align": "left", "baseline": "middle", "font": "DejaVu Sans Mono", "fontWeight": "bold", "fontSize": 11.5, "color": "#0000ff"},
      "encoding": {
        "x": {"field": "t", "type": "temporal"},
        "y": {"field": "v", "type": "quantitative"},
        "text": {"field": "s"}
      }
    },
    {
      "data": {"name": "fibPercents"},
      "mark": {"type": "text", "align": "left", "baseline": "middle", "font": "Liberation Sans", "fontSize": 12.5, "color": "#4a4af0"},
      "encoding": {
        "x": {"field": "t", "type": "temporal"},
        "y": {"field": "v", "type": "quantitative"},
        "text": {"field": "s"}
      }
    },
    {
      "data": {"name": "redLeft"},
      "mark": {"type": "text", "align": "left", "baseline": "middle", "font": "DejaVu Sans Mono", "fontWeight": "bold", "fontSize": 11.5, "color": "#e82020"},
      "encoding": {
        "x": {"field": "t", "type": "temporal"},
        "y": {"field": "v", "type": "quantitative"},
        "text": {"field": "s"}
      }
    },
    {
      "data": {"name": "greenLabels"},
      "mark": {"type": "text", "align": "center", "baseline": "middle", "font": "DejaVu Sans Mono, Noto Sans CJK SC", "fontWeight": "bold", "fontSize": 12.5, "color": "#22a044"},
      "encoding": {
        "x": {"field": "t", "type": "temporal"},
        "y": {"field": "v", "type": "quantitative"},
        "text": {"field": "s"}
      }
    },
    {
      "data": {"name": "pLabels"},
      "mark": {"type": "text", "align": "center", "baseline": "middle", "font": "Liberation Serif", "fontWeight": "bold", "fontSize": 15, "color": "#e82020"},
      "encoding": {
        "x": {"field": "t", "type": "temporal"},
        "y": {"field": "v", "type": "quantitative"},
        "text": {"field": "s"}
      }
    },
    {
      "data": {"name": "kLabels"},
      "mark": {"type": "text", "align": "center", "baseline": "middle", "font": "DejaVu Sans Mono", "fontWeight": "bold", "fontSize": 12.5, "color": "#ff00ff"},
      "encoding": {
        "x": {"field": "t", "type": "temporal"},
        "y": {"field": "v", "type": "quantitative"},
        "text": {"field": "s"}
      }
    },
    {
      "data": {"name": "maLabel"},
      "mark": {"type": "text", "align": "center", "baseline": "middle", "font": "DejaVu Sans, Noto Sans CJK SC", "fontWeight": "bold", "fontSize": 13, "color": "#0000ff"},
      "encoding": {
        "x": {"field": "t", "type": "temporal"},
        "y": {"field": "v", "type": "quantitative"},
        "text": {"field": "s"}
      }
    },
    {
      "data": {"name": "blackText"},
      "mark": {"type": "text", "align": "left", "baseline": "middle", "font": "Noto Sans CJK SC", "fontSize": 12.5, "color": "#202020"},
      "encoding": {
        "x": {"field": "t", "type": "temporal"},
        "y": {"field": "v", "type": "quantitative"},
        "text": {"field": "s"}
      }
    },
    {
      "data": {"name": "dayText"},
      "mark": {"type": "text", "align": "center", "baseline": "middle", "font": "Noto Sans CJK SC", "fontSize": 12, "color": "#202020"},
      "encoding": {
        "x": {"field": "t", "type": "temporal"},
        "y": {"field": "v", "type": "quantitative"},
        "text": {"field": "s"}
      }
    },
    {
      "data": {"name": "watermark"},
      "mark": {"type": "text", "align": "center", "baseline": "middle", "font": "Noto Sans CJK SC", "fontSize": 16, "color": "#808080", "opacity": 0.85, "stroke": "#ffffff", "strokeWidth": 0.5},
      "encoding": {
        "x": {"field": "t", "type": "temporal"},
        "y": {"field": "v", "type": "quantitative"},
        "text": {"field": "s"}
      }
    }
  ]
}
